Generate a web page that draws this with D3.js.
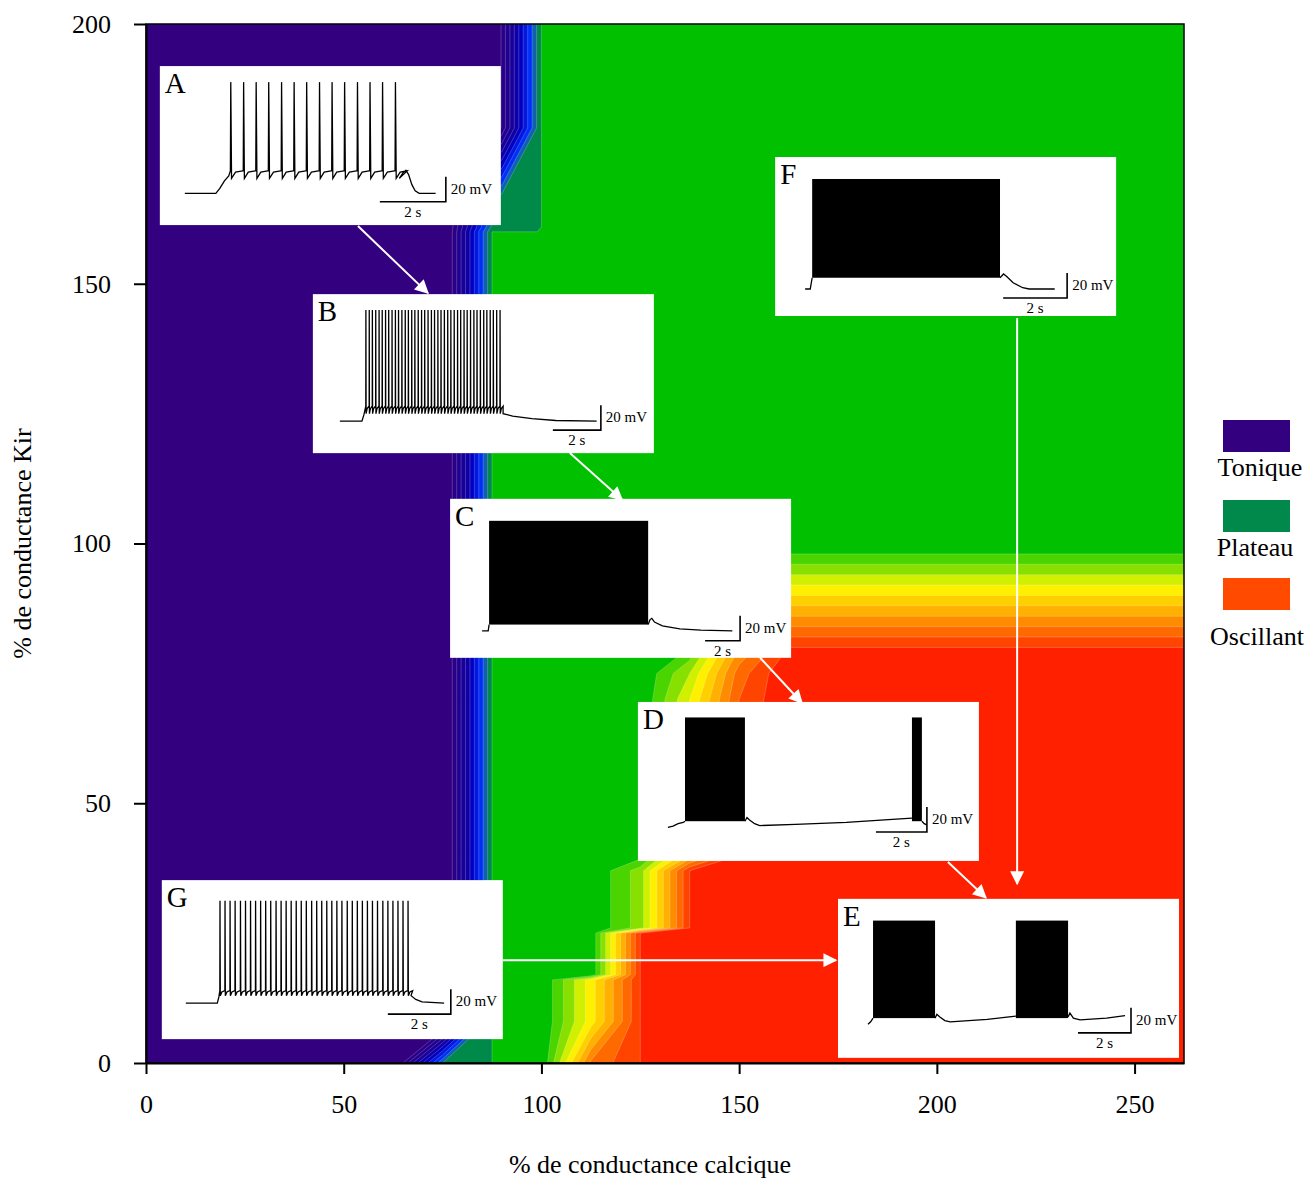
<!DOCTYPE html>
<html>
<head>
<meta charset="utf-8">
<script src="https://cdn.jsdelivr.net/npm/d3@7"></script>
<style>
  body { margin: 0; background: #fff; }
  text { font-family: 'Liberation Serif', 'Times New Roman', serif; }
</style>
</head>
<body>
<svg id="chart" width="1306" height="1178"></svg>
<script>
// ---- map data: behaviour index sampled on a (calcium %, Kir %) grid ----
// 0 = tonique, 1 = plateau, 2 = oscillant
const calcium = [0, 62.5, 75, 87.5, 90, 99, 100, 112.5, 125, 137.5, 150, 162.5, 262.5];
const kir = [0, 8, 16, 17, 25, 26, 37, 40, 70, 75, 80, 100, 160, 161, 167, 180, 200];
const behaviour = [
  [-0.1, -0.1, 0.9, 1.0, 1.0, 1.0, 1.0, 1.82, 2.0, 2.2, 2.2, 2.2, 2.2],      // 0
  [-0.1, -0.1, -0.12, 1.0, 1.0, 1.0, 1.0, 1.45, 2.0, 2.2, 2.2, 2.2, 2.2],    // 8
  [-0.1, -0.1, -0.12, 1.0, 1.0, 1.0, 1.0, 1.45, 2.0, 2.2, 2.2, 2.2, 2.2],    // 16
  [-0.1, -0.1, -0.12, 1.0, 1.0, 1.0, 1.0, 1.0, 2.0, 2.2, 2.2, 2.2, 2.2],     // 17
  [-0.1, -0.1, -0.12, 1.0, 1.0, 1.0, 1.0, 1.0, 2.0, 2.2, 2.2, 2.2, 2.2],     // 25
  [-0.1, -0.1, -0.12, 1.0, 1.0, 1.0, 1.0, 1.0, 1.25, 2.0, 2.2, 2.2, 2.2],    // 26
  [-0.1, -0.1, -0.12, 1.0, 1.0, 1.0, 1.0, 1.0, 1.25, 2.0, 2.2, 2.2, 2.2],    // 37
  [-0.1, -0.1, -0.12, 1.0, 1.0, 1.0, 1.0, 1.0, 1.05, 1.6, 2.0, 2.2, 2.2],    // 40
  [-0.1, -0.1, -0.12, 1.0, 1.0, 1.0, 1.0, 1.0, 1.0, 1.4, 1.9, 2.1, 2.1],     // 70
  [-0.1, -0.1, -0.12, 1.0, 1.0, 1.0, 1.0, 1.0, 1.0, 1.3, 1.85, 2.1, 2.1],    // 75
  [-0.1, -0.1, -0.12, 1.0, 1.0, 1.0, 1.0, 1.0, 1.0, 1.1, 1.7, 2.0, 2.0],     // 80
  [-0.1, -0.1, -0.12, 1.0, 1.0, 1.0, 1.0, 1.0, 1.0, 1.0, 1.0, 1.0, 1.0],     // 100
  [-0.1, -0.1, -0.12, 1.0, 1.0, 1.0, 1.0, 1.0, 1.0, 1.0, 1.0, 1.0, 1.0],     // 160
  [-0.1, -0.1, -0.12, 0.92, 0.92, 0.92, 1.0, 1.0, 1.0, 1.0, 1.0, 1.0, 1.0],  // 161
  [-0.1, -0.1, -0.12, 0.92, 0.92, 0.92, 1.0, 1.0, 1.0, 1.0, 1.0, 1.0, 1.0],  // 167
  [-0.1, -0.1, -0.1, -0.1, 0.12, 0.92, 1.0, 1.0, 1.0, 1.0, 1.0, 1.0, 1.0],   // 180
  [-0.1, -0.1, -0.1, -0.1, 0.12, 0.92, 1.0, 1.0, 1.0, 1.0, 1.0, 1.0, 1.0]    // 200
];
const levels = d3.range(1, 21).map(i => i / 10);
const bandColors = ['#330080', '#2a0088', '#220090', '#180098', '#0e00a8', '#0400c0',
  '#0018e0', '#0030f8', '#1060b0', '#008a4a', '#00c000', '#4ad400', '#88e000', '#d0f000',
  '#fff000', '#ffd000', '#ffb000', '#ff8c00', '#ff6a00', '#ff4400', '#ff2000'];

const xTicks = [0, 50, 100, 150, 200, 250];
const yTicks = [0, 50, 100, 150, 200];

const legendLabels = ['Tonique', 'Plateau', 'Oscillant'];
const legendColors = ['#33007f', '#00894a', '#ff4a00'];

// ---- voltage traces of the inserts (time in s, potential in mV) ----
const preA = [[0, -65], [0.94, -65], [1.06, -61], [1.2, -55], [1.33, -51]];
const spikesA = [1.38, 1.77, 2.15, 2.53, 2.92, 3.30, 3.68, 4.07, 4.45, 4.83, 5.22, 5.60, 5.98, 6.37];
const postA = [[6.5, -53], [6.6, -49], [6.7, -46.5], [6.78, -50], [6.88, -58], [6.98, -63], [7.1, -65], [7.6, -65]];

const preB = [[0, -65], [0.92, -65], [1.0, -60]];
const spikesB = [1.08, 1.22, 1.35, 1.49, 1.63, 1.76, 1.90, 2.03, 2.17, 2.31, 2.44, 2.58, 2.72, 2.85,
  2.99, 3.12, 3.26, 3.40, 3.53, 3.67, 3.81, 3.94, 4.08, 4.21, 4.35, 4.49, 4.62, 4.76, 4.90, 5.03,
  5.17, 5.30, 5.44, 5.58, 5.71, 5.85, 5.99, 6.12, 6.26, 6.39, 6.53, 6.67];
const postB = [[6.8, -59], [7.2, -61], [8.0, -63], [9.0, -64.5], [10.7, -65]];

const preC = [[0, -65], [0.35, -65], [0.4, -60]];
const burstsC = [[0.4, 9.49]];
const postC = [[9.49, -60], [9.6, -56], [9.7, -55], [9.85, -58], [10.3, -61], [11.3, -63.5], [12.5, -64.5], [14.3, -65]];

const preD = [[0, -67], [0.2, -66], [0.4, -64], [0.6, -63], [0.67, -62]];
const burstsD = [[0.67, 3.02], [9.57, 9.96]];
const midD = [[3.02, -62], [3.1, -59], [3.2, -61], [3.4, -64], [3.6, -65.5], [5, -64.5], [7, -63], [8.5, -61], [9.57, -59.5]];
const postD = [[9.96, -62], [10.05, -64], [10.15, -65]];

const preE = [[0, -67], [0.1, -65], [0.19, -62]];
const burstsE = [[0.19, 2.53], [5.58, 7.55]];
const midE = [[2.53, -62], [2.6, -59], [2.7, -61], [2.9, -64], [3.1, -65], [4.5, -63], [5.58, -60.5]];
const postE = [[7.55, -61], [7.62, -58], [7.75, -62], [8.0, -63.5], [9.0, -62], [9.7, -60]];

const preF = [[0, -65], [0.16, -65], [0.22, -56]];
const burstsF = [[0.22, 6.09]];
const postF = [[6.09, -56], [6.2, -53], [6.3, -55], [6.5, -60], [6.8, -64], [7.0, -65], [7.8, -65]];

const preG = [[0, -65], [1.0, -65], [1.05, -60]];
const spikesG = [1.08, 1.24, 1.40, 1.56, 1.73, 1.89, 2.05, 2.21, 2.37, 2.53, 2.69, 2.86, 3.02, 3.18,
  3.34, 3.50, 3.66, 3.82, 3.99, 4.15, 4.31, 4.47, 4.63, 4.79, 4.95, 5.12, 5.28, 5.44, 5.60, 5.76,
  5.92, 6.08, 6.25, 6.41, 6.57, 6.73, 6.89, 7.05];
const postG = [[7.15, -59], [7.3, -62], [7.5, -64], [8.2, -65]];

// spike amplitude levels per trace: [peak, after-hyperpolarisation, recovery, threshold]
const levelsA = [24, -53, -48, -47];
const levelsB = [24, -59, -55, -53];
const levelsG = [17, -59, -56, -55];
const burstLevelsC = [23, -60];
const burstLevelsD = [21, -62];
const burstLevelsE = [16, -62];
const burstLevelsF = [23, -56];

// arrows between inserts, in (calcium %, Kir %)
const arrows = [
  [[53.6, 161.1], [71.3, 148.2]],
  [[107.2, 117.4], [120.4, 108.4]],
  [[155.3, 78.0], [165.9, 69.3]],
  [[202.8, 38.7], [212.4, 31.8]],
  [[220.3, 143.4], [220.3, 34.5]],
  [[90.3, 19.8], [174.5, 19.8]]
];

// ---- layout ----
const plot = { left: 146, right: 1184, top: 24, bottom: 1063 };
const svg = d3.select('#chart');

const x = d3.scaleLinear().domain([0, 262.5]).range([plot.left, plot.right]);
const y = d3.scaleLinear().domain([0, 200]).range([plot.bottom, plot.top]);

const defs = svg.append('defs');
defs.append('clipPath').attr('id', 'plot-clip')
  .append('rect')
  .attr('x', plot.left).attr('y', plot.top)
  .attr('width', plot.right - plot.left).attr('height', plot.bottom - plot.top);

const mapArea = svg.append('g').attr('clip-path', 'url(#plot-clip)');
mapArea.append('rect')
  .attr('x', plot.left).attr('y', plot.top)
  .attr('width', plot.right - plot.left).attr('height', plot.bottom - plot.top)
  .attr('fill', bandColors[0]);

// contour grid -> data coordinates (grid point i sits at i + 0.5)
const gx = d3.scaleLinear().domain(calcium.map((d, i) => i + 0.5)).range(calcium).clamp(true);
const gy = d3.scaleLinear().domain(kir.map((d, i) => i + 0.5)).range(kir).clamp(true);
const toScreen = d3.geoTransform({
  point(px, py) { this.stream.point(x(gx(px)), y(gy(py))); }
});
const contourPath = d3.geoPath(toScreen);

const contours = d3.contours()
  .size([calcium.length, kir.length])
  .thresholds(levels)(behaviour.flat());

mapArea.selectAll('path.band')
  .data(contours)
  .join('path')
  .attr('class', 'band')
  .attr('d', contourPath)
  .attr('fill', (d, i) => bandColors[i + 1])
  .attr('stroke', 'rgba(255,255,255,0.3)')
  .attr('stroke-width', 0.7);

// ---- arrows ----
defs.append('marker')
  .attr('id', 'head')
  .attr('viewBox', '0 0 10 10')
  .attr('refX', 9).attr('refY', 5)
  .attr('markerWidth', 8).attr('markerHeight', 7)
  .attr('markerUnits', 'strokeWidth')
  .attr('orient', 'auto')
  .append('path').attr('d', 'M0,0 L10,5 L0,10 Z').attr('fill', '#fff');

svg.selectAll('line.arrow')
  .data(arrows)
  .join('line')
  .attr('class', 'arrow')
  .attr('x1', d => x(d[0][0])).attr('y1', d => y(d[0][1]))
  .attr('x2', d => x(d[1][0])).attr('y2', d => y(d[1][1]))
  .attr('stroke', '#fff')
  .attr('stroke-width', 2)
  .attr('marker-end', 'url(#head)');

// ---- inserts ----
const insetW = 341, insetH = 159;

function spikeTrain(times, lv) {
  const pts = [];
  times.forEach((t, i) => {
    const isi = i < times.length - 1 ? times[i + 1] - t : times[1] - times[0];
    pts.push([t, lv[3]], [t + isi * 0.03, lv[0]], [t + isi * 0.09, lv[1]],
      [t + isi * 0.4, lv[2]], [t + isi * 0.95, lv[3]]);
  });
  return pts;
}

function drawInset(cfg) {
  const g = svg.append('g')
    .attr('transform', `translate(${x(cfg.at[0])},${y(cfg.at[1])})`);
  g.append('rect').attr('width', insetW).attr('height', insetH).attr('fill', '#fff');

  const tx = d3.scaleLinear().domain([0, 1]).range([cfg.t0, cfg.t0 + cfg.pps]);
  const vy = d3.scaleLinear().domain([-65, -45]).range([cfg.base, cfg.base - 25]);
  const line = d3.line().x(d => tx(d[0])).y(d => vy(d[1]));

  if (cfg.bursts) {
    g.selectAll('rect.burst')
      .data(cfg.bursts)
      .join('rect')
      .attr('class', 'burst')
      .attr('x', d => tx(d[0]))
      .attr('width', d => tx(d[1]) - tx(d[0]))
      .attr('y', vy(cfg.burstLevels[0]))
      .attr('height', vy(cfg.burstLevels[1]) - vy(cfg.burstLevels[0]))
      .attr('fill', '#000');
  }
  cfg.lines.forEach(pts => {
    g.append('path')
      .attr('d', line(pts))
      .attr('fill', 'none')
      .attr('stroke', '#000')
      .attr('stroke-width', 1.3);
  });

  // scale bars: 20 mV and 2 s
  const bx = cfg.barX, by = cfg.base + cfg.barDy;
  g.append('path')
    .attr('d', `M${bx - 2 * cfg.pps},${by}H${bx}V${by - 25}`)
    .attr('fill', 'none').attr('stroke', '#000').attr('stroke-width', 1.6);
  g.append('text').attr('x', bx + 5).attr('y', by - 8)
    .style('font-size', '15px').text('20 mV');
  g.append('text').attr('x', bx - cfg.pps).attr('y', by + 15)
    .attr('text-anchor', 'middle').style('font-size', '15px').text('2 s');

  g.append('text').attr('x', 5).attr('y', 27)
    .style('font-size', '29px').text(cfg.label);
}

const insets = [
  { label: 'A', at: [3.5, 191.9], t0: 25, pps: 33, base: 127.3, barX: 286, barDy: 8.4,
    lines: [preA.concat(spikeTrain(spikesA, levelsA), postA)] },
  { label: 'B', at: [42.2, 148.0], t0: 27, pps: 24, base: 127, barX: 288, barDy: 9,
    lines: [preB.concat(spikeTrain(spikesB, levelsB), postB)] },
  { label: 'C', at: [76.9, 108.6], t0: 32, pps: 17.5, base: 132, barX: 290, barDy: 10,
    bursts: burstsC, burstLevels: burstLevelsC, lines: [preC, postC] },
  { label: 'D', at: [124.4, 69.5], t0: 30, pps: 25.5, base: 123, barX: 289, barDy: 7,
    bursts: burstsD, burstLevels: burstLevelsD, lines: [preD, midD, postD] },
  { label: 'E', at: [175.0, 31.6], t0: 30, pps: 26.5, base: 123, barX: 293, barDy: 11,
    bursts: burstsE, burstLevels: burstLevelsE, lines: [preE, midE, postE] },
  { label: 'F', at: [159.1, 174.4], t0: 30, pps: 32, base: 132, barX: 292, barDy: 9,
    bursts: burstsF, burstLevels: burstLevelsF, lines: [preF, postF] },
  { label: 'G', at: [4.0, 35.2], t0: 24, pps: 31.5, base: 123, barX: 289, barDy: 11,
    lines: [preG.concat(spikeTrain(spikesG, levelsG), postG)] }
];

insets.forEach(drawInset);

// ---- frame and axes ----
svg.append('rect')
  .attr('x', plot.left).attr('y', plot.top)
  .attr('width', plot.right - plot.left).attr('height', plot.bottom - plot.top)
  .attr('fill', 'none').attr('stroke', '#000').attr('stroke-width', 1.5);

const xAxis = svg.append('g')
  .attr('transform', `translate(0,${plot.bottom})`)
  .call(d3.axisBottom(x).tickValues(xTicks).tickSize(11).tickPadding(21).tickSizeOuter(0));
const yAxis = svg.append('g')
  .attr('transform', `translate(${plot.left},0)`)
  .call(d3.axisLeft(y).tickValues(yTicks).tickSize(12).tickPadding(23).tickSizeOuter(0));

[xAxis, yAxis].forEach(a => {
  a.select('.domain').attr('stroke', '#000').attr('stroke-width', 2);
  a.selectAll('.tick line').attr('stroke', '#000').attr('stroke-width', 2);
  a.selectAll('.tick text')
    .style('font-family', "'Liberation Serif', 'Times New Roman', serif")
    .style('font-size', '26px')
    .attr('fill', '#000');
});

svg.append('text')
  .attr('x', (plot.left + plot.right) / 2 - 15)
  .attr('y', 1173)
  .attr('text-anchor', 'middle')
  .style('font-size', '26px')
  .text('% de conductance calcique');

svg.append('text')
  .attr('transform', `translate(31,${(plot.top + plot.bottom) / 2}) rotate(-90)`)
  .attr('text-anchor', 'middle')
  .style('font-size', '26px')
  .text('% de conductance Kir');

// ---- legend ----
const legendRectY = [0, 80, 158];
const legendTextY = [56, 136, 225];
const legendTextX = [37, 32, 34];
const legend = svg.append('g').attr('transform', 'translate(1223,420)');
legend.selectAll('rect')
  .data(legendColors)
  .join('rect')
  .attr('x', 0).attr('y', (d, i) => legendRectY[i])
  .attr('width', 67).attr('height', 32)
  .attr('fill', d => d);
legend.selectAll('text')
  .data(legendLabels)
  .join('text')
  .attr('x', (d, i) => legendTextX[i])
  .attr('y', (d, i) => legendTextY[i])
  .attr('text-anchor', 'middle')
  .style('font-size', '26px')
  .text(d => d);
</script>
</body>
</html>
